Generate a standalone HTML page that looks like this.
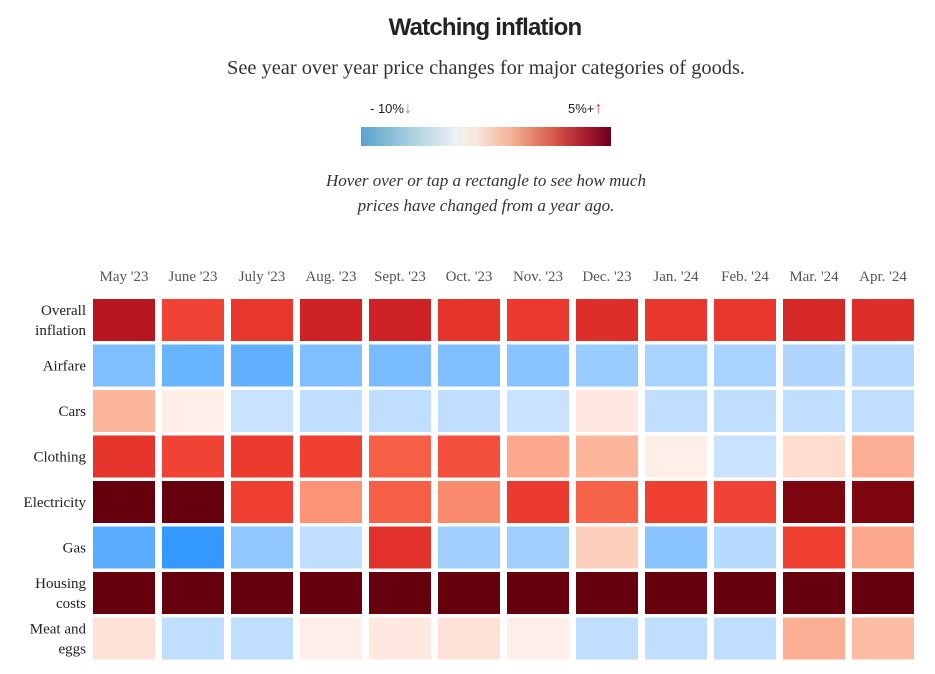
<!DOCTYPE html>
<html><head><meta charset="utf-8"><style>
body{margin:0;width:935px;height:674px;background:#fff;overflow:hidden;font-family:"Liberation Serif",serif;position:relative}
.a{position:absolute}
</style></head><body>
<div class="a" style="left:0;width:970px;top:14px;text-align:center;font:bold 24px 'Liberation Sans',sans-serif;color:#222;letter-spacing:-0.8px">Watching inflation</div>
<div class="a" style="left:0;width:972px;top:57px;text-align:center;font-size:20.4px;color:#333">See year over year price changes for major categories of goods.</div>
<div class="a" style="left:370px;top:100px;font:13px 'Liberation Sans',sans-serif;color:#222">- 10%<span style="color:#5aa0d8;font-weight:bold;font-size:16px">↓</span></div>
<div class="a" style="left:568px;top:100px;font:13px 'Liberation Sans',sans-serif;color:#222">5%+<span style="color:#e33;font-weight:bold;font-size:16px">↑</span></div>
<div class="a" style="left:361px;top:127px;width:250px;height:19px;background:linear-gradient(90deg,#5aa2cc,#a9cfe0 20%,#eef0f2 38%,#f8e6dc 46%,#f4b295 60%,#d8604f 76%,#b12231 88%,#6b0020)"></div>
<div class="a" style="left:0;width:972px;top:168px;text-align:center;font-style:italic;font-size:17px;line-height:25px;color:#333">Hover over or tap a rectangle to see how much<br>prices have changed from a year ago.</div>
<svg id="hm" class="a" style="left:0;top:0" width="935" height="674"></svg>
<script>
const months=["May '23","June '23","July '23","Aug. '23","Sept. '23","Oct. '23","Nov. '23","Dec. '23","Jan. '24","Feb. '24","Mar. '24","Apr. '24"];
const categories=[["Overall","inflation"],["Airfare"],["Cars"],["Clothing"],["Electricity"],["Gas"],["Housing","costs"],["Meat and","eggs"]];
const overall=[4.4,2.8,3.1,3.8,3.8,3.2,3.0,3.4,3.1,3.1,3.6,3.4];
const airfare=[-12,-15,-16,-12,-13,-12,-11,-9,-7,-7,-6,-5];
const cars=[1.0,0.1,-3,-4,-4,-4,-3,0.2,-4,-4,-4,-4];
const clothing=[3.2,2.8,3.0,2.9,2.3,2.6,1.2,1.0,0.1,-3,0.4,1.1];
const electricity=[6,6,2.9,1.5,2.3,1.6,3.0,2.2,2.9,2.8,5.6,5.6];
const gas=[-17,-22,-10,-4,3.3,-8,-8,0.6,-11,-5,2.9,1.2];
const housing=[6,6,6,6,6,6,6,6,6,6,6,6];
const meat=[0.3,-4,-4,0.1,0.2,0.3,0.1,-4,-4,-4,1.1,0.9];
const series=[overall,airfare,cars,clothing,electricity,gas,housing,meat];
const stops=[[-22,[51,153,255]],[-12,[128,191,255]],[-3,[200,226,255]],[0,[255,245,240]],[1,[252,182,155]],[2,[251,110,80]],[3,[236,58,46]],[4,[200,28,34]],[5,[160,14,24]],[6,[103,0,13]]];
function color(v){if(v<=stops[0][0])return 'rgb('+stops[0][1]+')';for(let i=1;i<stops.length;i++){if(v<=stops[i][0]){const[a,ca]=stops[i-1],[b,cb]=stops[i];const t=(v-a)/(b-a);return 'rgb('+ca.map((c,k)=>Math.round(c+(cb[k]-c)*t)).join(',')+')';}}return 'rgb('+stops[stops.length-1][1]+')';}
const x=i=>93+i*69, y=j=>299+j*45.5, W=62, H=42;
const svg=document.getElementById('hm'),NS='http://www.w3.org/2000/svg';
months.forEach((m,i)=>{const t=document.createElementNS(NS,'text');t.setAttribute('x',x(i)+W/2);t.setAttribute('y',281);t.setAttribute('text-anchor','middle');t.setAttribute('font-size','15');t.setAttribute('fill','#555');t.setAttribute('font-family','Liberation Serif, serif');t.textContent=m;


svg.appendChild(t);});
categories.forEach((c,j)=>{const t=document.createElementNS(NS,'text');t.setAttribute('text-anchor','end');t.setAttribute('font-size','15');t.setAttribute('fill','#222');t.setAttribute('font-family','Liberation Serif, serif');
const cy=y(j)+H/2;c.forEach((line,k)=>{const s=document.createElementNS(NS,'tspan');s.setAttribute('x',86);s.setAttribute('y',c.length==1?cy+5:cy-5+k*20);s.textContent=line;t.appendChild(s);});


svg.appendChild(t);
series[j].forEach((v,i)=>{const r=document.createElementNS(NS,'rect');r.setAttribute('x',x(i));r.setAttribute('y',y(j));r.setAttribute('width',W);r.setAttribute('height',H);r.setAttribute('fill',color(v));


svg.appendChild(r);});});
</script>
</body></html>
